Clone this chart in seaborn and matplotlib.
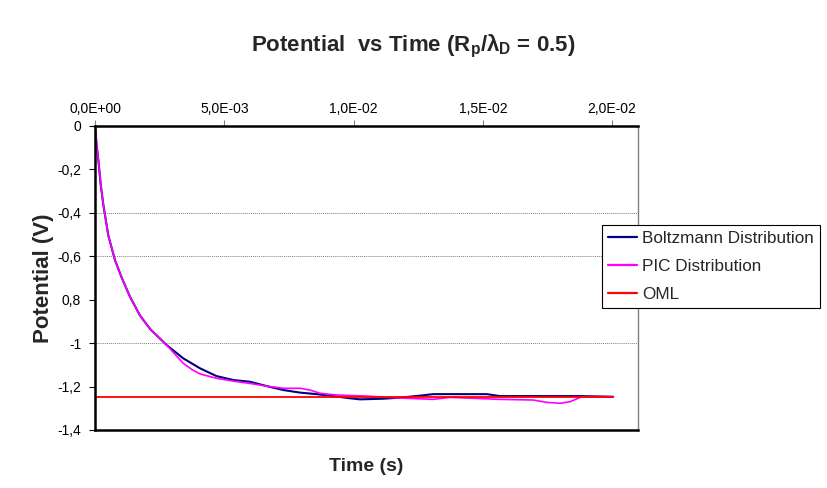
import numpy as np
import pandas as pd
import matplotlib
matplotlib.use("Agg")
import matplotlib.pyplot as plt
import seaborn as sns
from matplotlib.ticker import FixedLocator

# data
boltz_t = [0.0, 0.00006, 0.000129, 0.00022, 0.00032, 0.000515, 0.00077, 0.00103, 0.00135, 0.00174, 0.00213,
           0.00277, 0.00341, 0.00406, 0.0047, 0.00535, 0.006, 0.00664, 0.00728, 0.00793,
           0.00857, 0.00921, 0.00986, 0.01025, 0.01115, 0.0118, 0.01257, 0.01308, 0.01437,
           0.01515, 0.01566, 0.01695, 0.01875, 0.02004]
boltz_v = [0.0, -0.085, -0.157, -0.27, -0.362, -0.505, -0.617, -0.698, -0.786, -0.873, -0.935,
           -1.009, -1.070, -1.116, -1.152, -1.170, -1.178, -1.198, -1.216, -1.228,
           -1.235, -1.244, -1.254, -1.259, -1.256, -1.251, -1.242, -1.235, -1.235,
           -1.235, -1.244, -1.244, -1.244, -1.247]

pic_t = [0.0, 0.00006, 0.000129, 0.00022, 0.00032, 0.000515, 0.00077, 0.00103, 0.00135, 0.00174, 0.00213,
         0.00277, 0.00341, 0.00374, 0.00406, 0.0047, 0.00535, 0.006, 0.00664, 0.00728,
         0.00793, 0.00831, 0.0087, 0.00934, 0.0105, 0.0118, 0.01308, 0.01373, 0.01566,
         0.01695, 0.01747, 0.01798, 0.01837, 0.01882, 0.02004]
pic_v = [0.0, -0.085, -0.157, -0.27, -0.362, -0.505, -0.617, -0.698, -0.786, -0.873, -0.935,
         -1.009, -1.093, -1.121, -1.142, -1.162, -1.175, -1.186, -1.198, -1.208,
         -1.208, -1.216, -1.231, -1.239, -1.244, -1.253, -1.259, -1.250, -1.259,
         -1.262, -1.273, -1.277, -1.270, -1.247, -1.247]

oml_t = [0.0, 0.02004]
oml_v = [-1.25, -1.25]

x_ticks = [0.0, 0.005, 0.010, 0.015, 0.020]
x_labels = ["0,0E+00", "5,0E-03", "1,0E-02", "1,5E-02", "2,0E-02"]
y_ticks = [0.0, -0.2, -0.4, -0.6, -0.8, -1.0, -1.2, -1.4]
y_labels = ["0", "-0,2", "-0,4", "-0,6", "0,8", "-1", "-1,2", "-1,4"]

sns.set_theme(style="white")
plt.rcParams['font.family'] = ['Liberation Sans', 'DejaVu Sans']

fig = plt.figure(figsize=(8.27, 4.88), dpi=100)
ax = fig.add_axes([0.1149, 0.1189, 0.6566, 0.623])

sns.lineplot(x=boltz_t, y=boltz_v, ax=ax, color="#000080", lw=1.5, label="Boltzmann Distribution")
sns.lineplot(x=pic_t, y=pic_v, ax=ax, color="#ff00ff", lw=1.2, label="PIC Distribution")
sns.lineplot(x=oml_t, y=oml_v, ax=ax, color="#ff0000", lw=1.3, label="OML")

ax.set_xlim(0, 0.0210)
ax.set_ylim(-1.4, 0)

# only a few dotted grid lines are visible in the original
for g in [-0.4, -0.6, -1.0]:
    ax.axhline(g, color="#808080", lw=0.7, ls=(0, (1, 1)), zorder=0)

ax.xaxis.tick_top()
ax.xaxis.set_label_position("bottom")
ax.xaxis.set_major_locator(FixedLocator(x_ticks))
ax.set_xticklabels(x_labels)
ax.yaxis.set_major_locator(FixedLocator(y_ticks))
ax.set_yticklabels(y_labels)
ax.tick_params(axis="both", labelsize=10, colors="black", direction="out", length=4, width=0.8)
ax.tick_params(axis="x", top=True, bottom=False, pad=3, color="#808080")
ax.tick_params(axis="y", left=True, pad=6)

for side in ["left", "top", "bottom"]:
    ax.spines[side].set_color("black")
    ax.spines[side].set_linewidth(1.8)
ax.spines["right"].set_color("#808080")
ax.spines["right"].set_linewidth(1.0)

ax.set_xlabel("Time (s)", fontsize=14, fontweight="bold", labelpad=20)
ax.set_ylabel("Potential (V)", fontsize=16, fontweight="bold", labelpad=2)
fig.text(0.5, 0.905, r"Potential  vs Time (R$_\mathregular{p}$/$\mathregular{\lambda}$$_\mathregular{D}$ = 0.5)",
         ha="center", va="center", fontsize=16, fontweight="bold")

leg = ax.legend(loc="upper left", bbox_to_anchor=(0.9337, 0.674), frameon=True, fancybox=False,
                fontsize=12.3, handlelength=1.7, handletextpad=0.3, borderpad=0.35,
                labelspacing=0.75, borderaxespad=0)
leg.get_frame().set_edgecolor("black")
leg.get_frame().set_linewidth(0.8)
leg.get_frame().set_alpha(1)
for line in leg.get_lines():
    line.set_linewidth(1.6)

fig.savefig("out.png", dpi=100)
